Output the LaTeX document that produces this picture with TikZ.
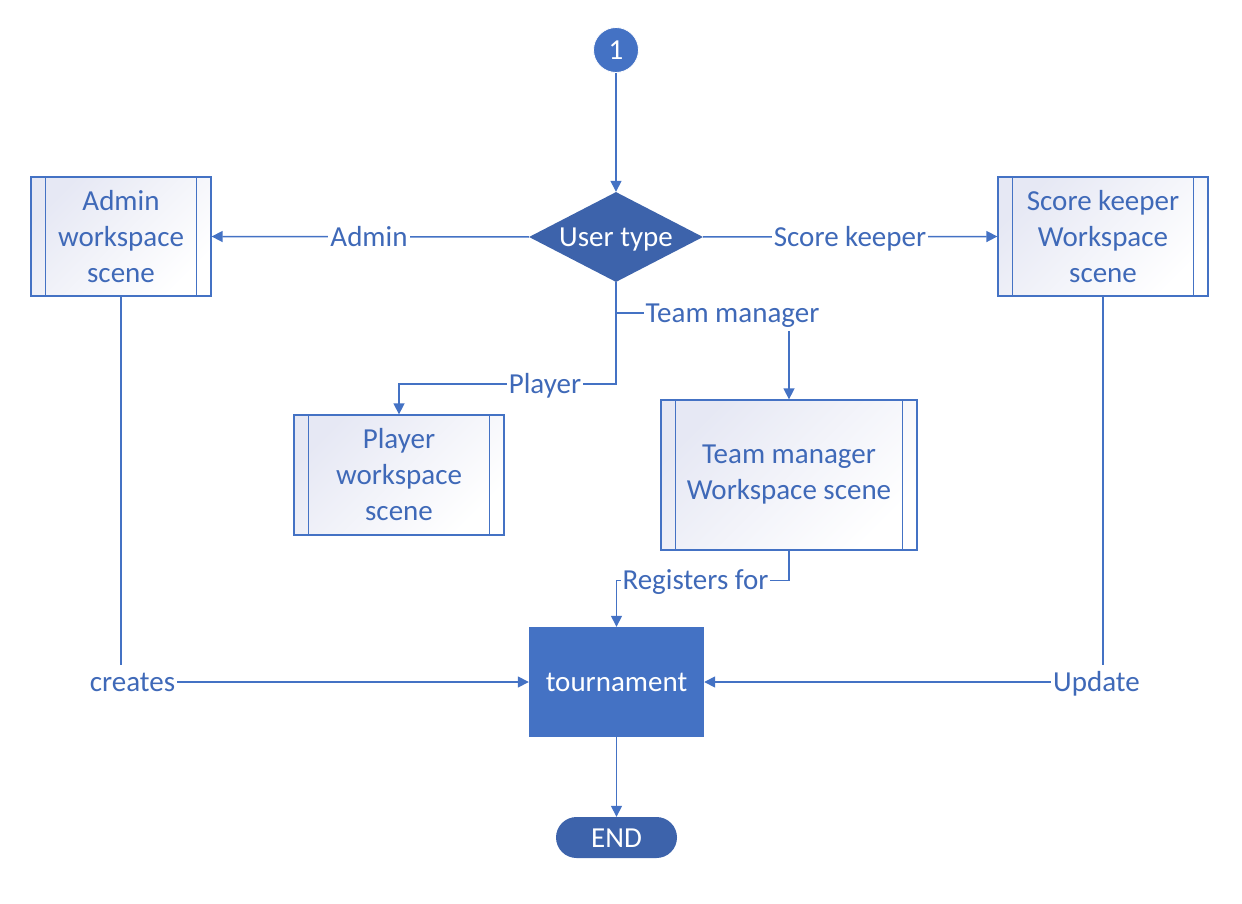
\documentclass[tikz,border=0pt]{standalone}
\usepackage{fontspec}
\setmainfont{Carlito}
\usetikzlibrary{shapes.geometric,arrows.meta}
\definecolor{lineblue}{HTML}{4472C4}
\definecolor{darkblue}{HTML}{3D63AB}
\definecolor{txtblue}{HTML}{3F69B8}
\definecolor{gradblue}{HTML}{E6E8F4}
\tikzset{
  x=1pt, y=-1pt,
  every node/.style={font=\fontsize{29}{36}\selectfont},
  oneline/.style={text height=25pt, text depth=6pt},
  conn/.style={draw=lineblue, line width=1.5pt, -{Triangle[length=11pt,width=11pt]}},
  lbl/.style={oneline, fill=white, text=txtblue, inner sep=2pt},
  procbox/.style={draw=lineblue, line width=1.3pt, left color=gradblue, right color=white, shading angle=45,
    text=txtblue, align=center, inner sep=0pt},
  inner/.style={draw=lineblue, line width=1.3pt},
}
\begin{document}
\begin{tikzpicture}
\useasboundingbox (0,0) rectangle (1242,904);
% nodes
\node[circle, fill=lineblue, draw=white, line width=0.8pt, minimum size=45pt, inner sep=0pt, text=white] (one) at (616,50) {1};
\node[diamond, fill=darkblue, minimum width=174pt, minimum height=90pt, inner sep=0pt] (ut) at (616,237) {};
\node[oneline, text=white, inner sep=0pt] (utl) at (ut.center) {User type};
\node[procbox, minimum width=180pt, minimum height=119pt] (adm) at (121,236.5) {Admin\\workspace\\scene};
\node[procbox, minimum width=210pt, minimum height=119pt] (sk) at (1103,236.5) {Score keeper\\Workspace\\scene};
\node[procbox, minimum width=210pt, minimum height=120pt] (pl) at (399,475) {Player\\workspace\\scene};
\node[procbox, minimum width=256pt, minimum height=150pt] (tm) at (789,475) {Team manager\\Workspace scene};
\node[oneline, fill=lineblue, minimum width=175pt, minimum height=110pt, inner sep=0pt, text=white] (tour) at (616.5,682) {tournament};
\node[oneline, fill=darkblue, rounded corners=20.5pt, minimum width=121pt, minimum height=41pt, inner sep=0pt, text=white] (end) at (616.5,837.5) {END};
% inner lines of predefined process boxes
\foreach \n in {adm,sk,pl,tm}{
  \draw[inner] ([xshift=15pt]\n.north west) -- ([xshift=15pt]\n.south west);
  \draw[inner] ([xshift=-15pt]\n.north east) -- ([xshift=-15pt]\n.south east);
}
% connectors
\draw[conn] (one) -- (ut.north);
\draw[conn] (ut.west) -- (adm.east);
\draw[conn] (ut.east) -- (sk.west);
\draw[conn] (ut.south) -- ++(0,31) -| (tm.north);
\draw[conn] (ut.south) -- ++(0,102) -| (pl.north);
\draw[conn] (tm.south) -- ++(0,30) -| (tour.north);
\draw[conn] (adm.south) |- (tour.west);
\draw[conn] (sk.south) |- (tour.east);
\draw[conn] (tour.south) -- (end.north);
% labels
\node[lbl] (la) at (369,237) {Admin};
\node[lbl] (ls) at (850,237) {Score keeper};
\node[lbl] (ltm) at (732.5,313) {Team manager};
\node[lbl] (lp) at (545,384) {Player};
\node[lbl] (lr) at (695.5,580) {Registers for};
\node[lbl] (lc) at (132.5,682) {creates};
\node[lbl] (lu) at (1096.5,682) {Update};
\end{tikzpicture}
\end{document}
